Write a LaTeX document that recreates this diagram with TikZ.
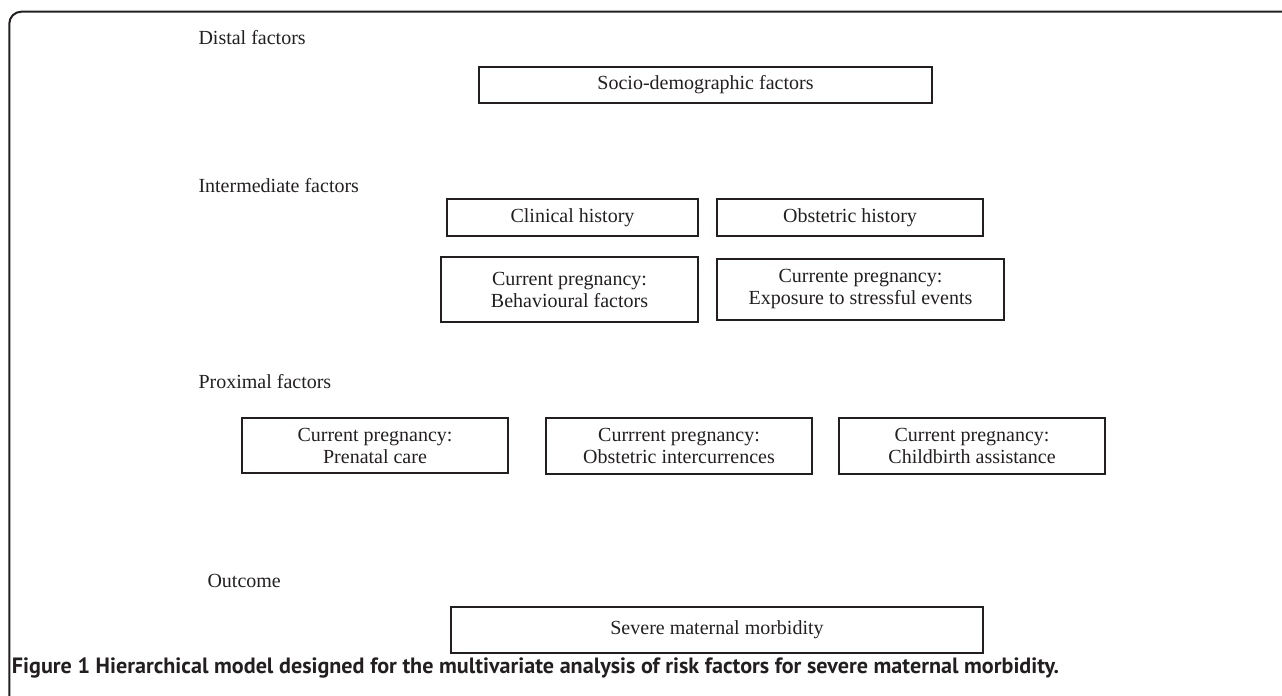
\documentclass[tikz,border=0pt]{standalone}
\usepackage{fontspec}
\setmainfont{Liberation Serif}
\newfontfamily\capfont{PT Sans}
\definecolor{inkgray}{RGB}{35,31,32}
\tikzset{every picture/.style={line width=0.75pt}}
\tikzset{
  factorbox/.style={draw=inkgray, line width=1pt, rectangle, inner sep=0pt, align=center, text=inkgray, font=\fontsize{15}{16.5}\selectfont},
  levellabel/.style={anchor=base west, inner sep=0pt, text=inkgray, font=\fontsize{15}{16.5}\selectfont},
}

\begin{document}
\begin{tikzpicture}[x=0.75pt,y=0.75pt,yscale=-1,xscale=1]
\useasboundingbox (0,0) rectangle (1282,696);

% Frame
\draw [draw=inkgray, line width=1.5pt, rounded corners=9pt] (1282,11.7) -- (9.3,11.7) -- (9.3,696) ;

% Level labels
\node [levellabel] (distal) at (198,44) {Distal factors};
\node [levellabel] (intermed) at (198,192) {Intermediate factors};
\node [levellabel] (proximal) at (198,388) {Proximal factors};
\node [levellabel] (outcome) at (207,587) {Outcome};

% Distal
\node [factorbox, minimum width=339.75pt, minimum height=27pt] (socio) at (705.5,85) {Socio-demographic factors};
% Intermediate
\node [factorbox, minimum width=188.25pt, minimum height=27.75pt] (clinhist) at (572.5,217.5) {Clinical history};
\node [factorbox, minimum width=199.5pt, minimum height=27.75pt] (obsthist) at (850,217.5) {Obstetric history};
\node [factorbox, minimum width=192.75pt, minimum height=48.75pt] (behav) at (569.5,289.5) {Current pregnancy:\\Behavioural factors};
\node [factorbox, minimum width=215.25pt, minimum height=45.75pt] (stress) at (860.5,289.5) {Currente pregnancy:\\Exposure to stressful events};
% Proximal
\node [factorbox, minimum width=199.5pt, minimum height=41.25pt] (prenatal) at (375,445.5) {Current pregnancy:\\Prenatal care};
\node [factorbox, minimum width=199.5pt, minimum height=42pt] (intercur) at (679,446) {Currrent pregnancy:\\Obstetric intercurrences};
\node [factorbox, minimum width=199.5pt, minimum height=42pt] (childbirth) at (972,446) {Current pregnancy:\\Childbirth assistance};
% Outcome
\node [factorbox, minimum width=399pt, minimum height=34.5pt] (severe) at (717,630) {Severe maternal morbidity};

% Caption
\node [anchor=base west, inner sep=0pt, text=inkgray, font=\capfont\bfseries\fontsize{16.6}{19}\selectfont] (caption) at (11.5,673) {Figure 1 Hierarchical model designed for the multivariate analysis of risk factors for severe maternal morbidity.};

\end{tikzpicture}
\end{document}
